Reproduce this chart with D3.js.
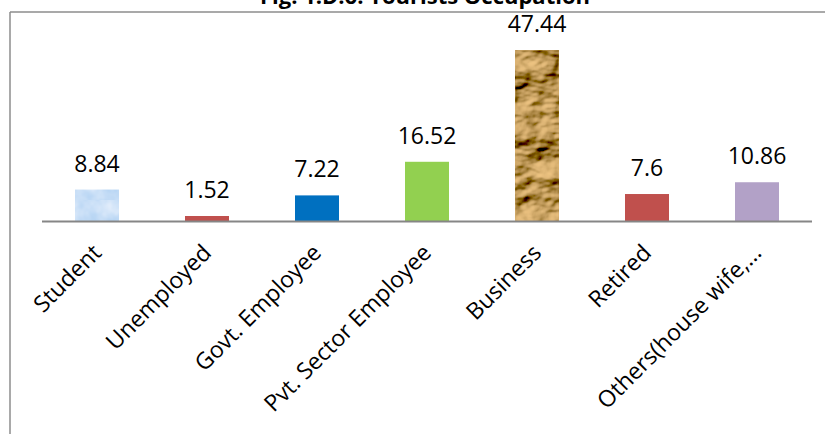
<!DOCTYPE html>
<html>
<head>
<meta charset="utf-8">
<script src="https://cdn.jsdelivr.net/npm/d3@7"></script>
<style>
  html, body { margin: 0; padding: 0; background: #fff; }
  svg { display: block; }
</style>
</head>
<body>
<svg id="chart" width="825" height="434"></svg>
<script>
// Tourists by occupation (%)
const categories = ["Student", "Unemployed", "Govt. Employee", "Pvt. Sector Employee", "Business", "Retired", "Others(house wife,..."];
const values = [8.84, 1.52, 7.22, 16.52, 47.44, 7.6, 10.86];
const barFills = ["url(#sky)", "#c0504d", "#0070c0", "#92d050", "url(#paper)", "#c0504d", "#b2a1c7"];
const title = "Fig. 1.D.6. Tourists Occupation";

const W = 825, H = 434;
const svg = d3.select("#chart");
const font = "'Open Sans', sans-serif";

// Textured fills: light sky for Student, crumpled paper for Business
const defs = svg.append("defs");

const sky = defs.append("pattern").attr("id", "sky")
  .attr("patternUnits", "userSpaceOnUse").attr("width", 200).attr("height", 200);
const skyF = defs.append("filter").attr("id", "skyNoise")
  .attr("x", 0).attr("y", 0).attr("width", 1).attr("height", 1);
skyF.append("feTurbulence").attr("type", "fractalNoise")
  .attr("baseFrequency", "0.06").attr("numOctaves", 3).attr("seed", 4).attr("result", "n");
skyF.append("feColorMatrix").attr("in", "n").attr("type", "matrix")
  .attr("values", "0 0 0 0 0.80  0 0 0 0 0.87  0 0 0 0 0.97  0 0 0 -1.4 1.0").attr("result", "c");
skyF.append("feComposite").attr("in", "c").attr("in2", "SourceGraphic").attr("operator", "in");
sky.append("rect").attr("width", 200).attr("height", 200).attr("fill", "#b9d6f4");
sky.append("rect").attr("width", 200).attr("height", 200).attr("fill", "#fff").attr("filter", "url(#skyNoise)");

const paper = defs.append("filter").attr("id", "paperFx")
  .attr("x", 0).attr("y", 0).attr("width", 1).attr("height", 1);
paper.append("feTurbulence").attr("type", "fractalNoise")
  .attr("baseFrequency", "0.018 0.03").attr("numOctaves", 4).attr("seed", 11).attr("result", "t");
paper.append("feDiffuseLighting").attr("in", "t").attr("surfaceScale", 12)
  .attr("lighting-color", "#ecce9f").attr("diffuseConstant", 1.0).attr("result", "lit")
  .append("feDistantLight").attr("azimuth", 225).attr("elevation", 38);
paper.append("feColorMatrix").attr("in", "lit").attr("type", "matrix")
  .attr("values", "1.05 0 0 0 -0.02  0 1.0 0 0 -0.06  0 0 0.95 0 -0.1  0 0 0 1 0").attr("result", "tone");
paper.append("feComposite").attr("in", "tone").attr("in2", "SourceGraphic").attr("operator", "in");
defs.append("pattern").attr("id", "paper")
  .attr("patternUnits", "userSpaceOnUse").attr("width", 60).attr("height", 200)
  .append("rect").attr("width", 60).attr("height", 200).attr("fill", "#b8956a");

// Frame lines
svg.append("line").attr("x1", 10).attr("x2", W).attr("y1", 12).attr("y2", 12)
  .attr("stroke", "#8c8c8c").attr("stroke-width", 1.5);
svg.append("line").attr("x1", 10).attr("x2", 10).attr("y1", 12).attr("y2", H)
  .attr("stroke", "#8c8c8c").attr("stroke-width", 1.5);

// Title
svg.append("text").attr("x", 425).attr("y", 4).attr("text-anchor", "middle")
  .attr("font-family", font).attr("font-weight", "bold").attr("font-size", 22)
  .attr("fill", "#000").text(title);

// Scales
const x = d3.scaleBand().domain(categories).range([42, 812]).paddingInner(0.6).paddingOuter(0.3);
const y = d3.scaleLinear().domain([0, d3.max(values)]).range([221.5, 50]);

const data = categories.map((c, i) => ({ c, v: values[i], fill: barFills[i] }));

// Bars
svg.append("g").selectAll("rect").data(data).join("rect")
  .attr("x", d => x(d.c)).attr("width", x.bandwidth())
  .attr("y", d => y(d.v)).attr("height", d => y(0) - y(d.v))
  .attr("fill", d => d.fill)
  .attr("filter", d => d.c === "Business" ? "url(#paperFx)" : null);

// Value labels
svg.append("g").selectAll("text").data(data).join("text")
  .attr("x", d => x(d.c) + x.bandwidth() / 2).attr("y", d => y(d.v) - 18)
  .attr("text-anchor", "middle").attr("font-family", font).attr("font-size", 23)
  .attr("fill", "#000").text(d => d.v);

// Category axis
const axis = svg.append("g").attr("transform", `translate(0,${y(0)})`)
  .call(d3.axisBottom(x).tickSize(0).tickSizeOuter(0));
axis.select(".domain").attr("stroke", "#868686").attr("stroke-width", 2)
  .attr("d", "M42,0H812");
axis.selectAll(".tick text")
  .attr("font-family", font).attr("font-size", 23).attr("fill", "#000")
  .attr("text-anchor", "end")
  .attr("transform", "translate(0,27) rotate(-45)")
  .attr("dy", "0.35em").attr("y", 0).attr("x", 0);
</script>
</body>
</html>
